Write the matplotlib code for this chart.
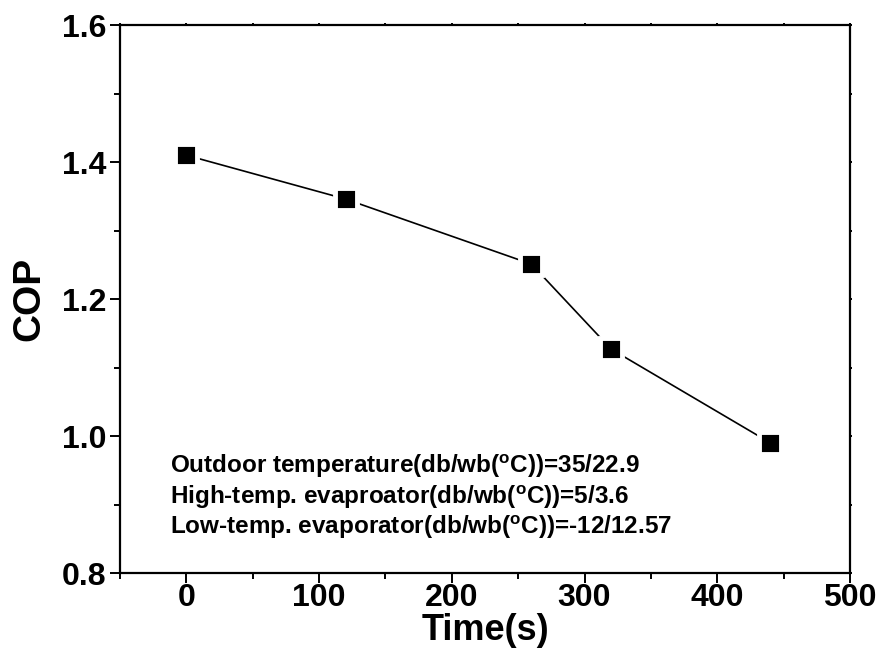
import matplotlib
matplotlib.use("Agg")
import matplotlib.pyplot as plt
from matplotlib.ticker import MultipleLocator

# data
time_s = [0, 120, 260, 320, 440]
cop = [1.41, 1.346, 1.251, 1.127, 0.99]

notes = [
    r"Outdoor temperature(db/wb($^\mathregular{o}$C))=35/22.9",
    r"High-temp. evaproator(db/wb($^\mathregular{o}$C))=5/3.6",
    r"Low-temp. evaporator(db/wb($^\mathregular{o}$C))=-12/12.57",
]
note_y = [0.956, 0.911, 0.867]

plt.rcParams['font.family'] = ['Liberation Sans', 'DejaVu Sans']
plt.rcParams['font.weight'] = 'bold'
plt.rcParams['mathtext.fontset'] = 'custom'
plt.rcParams['mathtext.rm'] = 'Liberation Sans:bold'
plt.rcParams['mathtext.default'] = 'regular'

fig = plt.figure(figsize=(8.9, 6.6), dpi=100)
ax = fig.add_axes([0.1348, 0.1318, 0.8202, 0.8302])

# line with a small gap around markers (white edge)
ax.plot(time_s, cop, color='black', linewidth=1.2, marker='s',
        markersize=16.5, markerfacecolor='black', markeredgecolor='white',
        markeredgewidth=3.5)

ax.set_xlim(-50, 500)
ax.set_ylim(0.8, 1.6)
ax.xaxis.set_major_locator(MultipleLocator(100))
ax.xaxis.set_minor_locator(MultipleLocator(50))
ax.yaxis.set_major_locator(MultipleLocator(0.2))
ax.yaxis.set_minor_locator(MultipleLocator(0.1))
ax.yaxis.set_major_formatter(plt.FormatStrFormatter('%.1f'))

for s in ax.spines.values():
    s.set_linewidth(1.6)

ax.tick_params(which='major', direction='out', length=7, width=1.4,
               labelsize=23, pad=3)
ax.tick_params(axis='x', which='major', pad=0)
ax.tick_params(which='minor', direction='out', length=4, width=1.4)
ax.tick_params(which='both', top=True, right=True)
# tiny inward ticks on top/right like the original
for t in ax.xaxis.get_major_ticks() + ax.xaxis.get_minor_ticks():
    t.tick2line.set_markersize(1.5)
for t in ax.yaxis.get_major_ticks() + ax.yaxis.get_minor_ticks():
    t.tick2line.set_markersize(1.5)

ax.set_xlabel('Time(s)', fontsize=26, fontweight='bold', labelpad=0)
ax.set_ylabel('COP', fontsize=28, fontweight='bold', labelpad=10)

for txt, yy in zip(notes, note_y):
    ax.text(-12, yy, txt, fontsize=17.5, fontweight='bold', va='center',
            ha='left')

fig.savefig('out.png', dpi=100)
